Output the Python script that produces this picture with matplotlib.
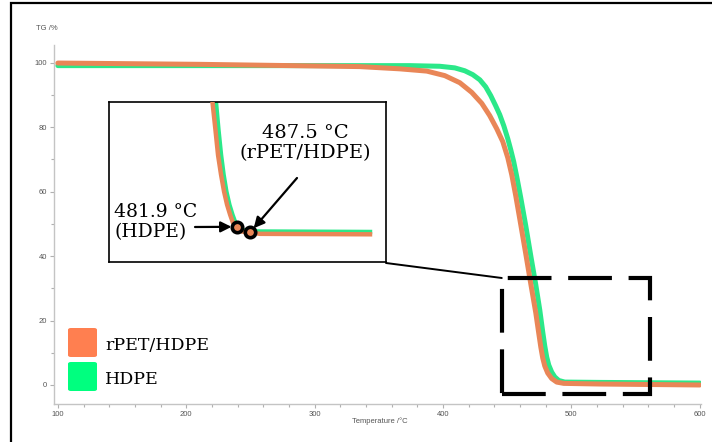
import numpy as np
import matplotlib
matplotlib.use("Agg")
import matplotlib.pyplot as plt
from matplotlib.patches import Rectangle, FancyBboxPatch
from matplotlib.ticker import MultipleLocator

# ---- TGA curves (temperature in °C, mass in %) ----
temp_blend = [100, 210.6, 335.2, 366.4, 387.4, 401.4, 413.1, 422.4, 430.2, 436.4,
              441.9, 446.6, 450.5, 453.6, 456.7, 459.8, 464.5, 468.4, 472.3,
              474.6, 476.2, 477.7, 479.3, 481.6, 484.7, 488.6, 494.1, 522.1, 600]
tg_blend = [99.9, 99.5, 98.8, 98.1, 97.4, 96.0, 93.8, 90.8, 87.4, 83.6,
            79.5, 75.5, 70.5, 65.2, 58.7, 51.6, 40.7, 31.4, 22.4,
            16.1, 11.8, 8.4, 5.9, 3.7, 2.0, 0.9, 0.5, 0.3, 0.0]

temp_hdpe = [100, 335.2, 374.1, 397.5, 409.2, 417.0, 423.2, 428.7, 433.3, 437.2,
             441.1, 444.2, 447.4, 450.5, 452.8, 455.1, 457.5, 460.6, 464.5,
             468.4, 472.3, 475.4, 477.7, 479.3, 480.8, 482.4, 484.7, 487.1,
             490.2, 494.9, 522.1, 600]
tg_hdpe = [99.1, 99.1, 99.1, 98.9, 98.4, 97.5, 96.3, 94.7, 92.5, 89.8,
           86.6, 83.9, 80.4, 76.4, 73.0, 69.3, 64.6, 58.1, 49.4,
           40.1, 31.1, 23.3, 16.5, 12.1, 8.7, 6.2, 4.0, 2.5,
           1.4, 0.9, 0.8, 0.6]

# ---- magnified end-of-degradation region ----
zoom_temp_blend = [471.3, 472.6, 473.7, 475.0, 476.3, 477.6, 478.9, 480.1,
                   481.9, 484.0, 487.5, 491.8, 539.2]
zoom_tg_blend = [28.6, 22.6, 17.3, 13.1, 9.5, 6.7, 4.6, 2.9,
                 1.6, 1.0, 0.8, 0.5, 0.4]

zoom_temp_hdpe = [472.8, 473.9, 475.0, 476.1, 477.3, 478.6, 479.9, 481.0,
                  481.9, 483.6, 486.6, 491.8, 539.2]
zoom_tg_hdpe = [28.6, 22.6, 17.3, 13.1, 9.5, 6.7, 4.6, 3.1,
                2.0, 1.4, 1.1, 1.0, 0.9]

end_temp_hdpe = 481.9
end_temp_blend = 487.5

series_names = ["rPET/HDPE", "HDPE"]
line_colors = ["#E98657", "#2BE889"]
swatch_colors = ["#FF7F50", "#00FF7F"]

W, H = 712, 442


def fpx(x, y):
    """Figure fraction from pixel position measured from the top-left."""
    return x / W, 1 - y / H


fig = plt.figure(figsize=(W / 100, H / 100), dpi=100)

# outer frame
fig.add_artist(Rectangle(fpx(11, 445), 710 / W, 442 / H, transform=fig.transFigure,
                         fill=False, ec="black", lw=1.6, zorder=0))

ax = fig.add_axes([54 / W, 38 / H, 647 / W, 359 / H])
ax.plot(temp_hdpe, tg_hdpe, color=line_colors[1], lw=3.6,
        solid_capstyle="round", solid_joinstyle="round", zorder=2)
ax.plot(temp_blend, tg_blend, color=line_colors[0], lw=3.6,
        solid_capstyle="round", solid_joinstyle="round", zorder=3)
ax.set_xlim(97, 601)
ax.set_ylim(-5.9, 105.5)
for side in ("top", "right"):
    ax.spines[side].set_visible(False)
for side in ("left", "bottom"):
    ax.spines[side].set_color("#C4C4C4")
    ax.spines[side].set_linewidth(1.0)
ax.xaxis.set_major_locator(MultipleLocator(100))
ax.xaxis.set_minor_locator(MultipleLocator(20))
ax.yaxis.set_major_locator(MultipleLocator(20))
ax.yaxis.set_minor_locator(MultipleLocator(10))
ax.tick_params(which="both", colors="#B0B0B0", labelcolor="#555555",
               labelsize=5.5, width=0.8, pad=2)
ax.tick_params(which="major", length=3)
ax.tick_params(which="minor", length=2)
for lab in ax.get_xticklabels() + ax.get_yticklabels():
    lab.set_family("Liberation Sans")

fig.text(*fpx(36, 29), "TG /%", fontsize=5.5, color="#555555",
         family="Liberation Sans", ha="left", va="center")
fig.text(*fpx(380, 421), "Temperature /°C", fontsize=5.5, color="#555555",
         family="Liberation Sans", ha="center", va="center")

# dashed frame around the zoomed region and its connector
ax.add_patch(Rectangle((445.8, -2.8), 561 - 445.8, 33.2 + 2.8, fill=False,
                       ec="black", lw=3.0, ls=(0, (10.5, 4.0)), zorder=5))
ax.annotate("", xy=(445.8, 33.2), xycoords="data",
            xytext=fpx(386, 263), textcoords="figure fraction",
            arrowprops=dict(arrowstyle="-", lw=1.4, color="black",
                            shrinkA=0, shrinkB=0), zorder=5)

# legend swatches
for i, (name, col) in enumerate(zip(series_names, swatch_colors)):
    y_top = 328 + i * 34
    x0, y0 = fpx(68, y_top + 29)
    fig.add_artist(FancyBboxPatch((x0, y0), 29 / W, 29 / H,
                                  boxstyle="round,pad=0,rounding_size=0.004",
                                  transform=fig.transFigure, fc=col, ec="none"))
    fig.text(*fpx(105, y_top + 15), name, fontsize=12.5, family="DejaVu Serif",
             ha="left", va="center_baseline", color="black")

# magnified inset
axin = fig.add_axes([109 / W, 1 - 262 / H, 277 / W, 160 / H])
axin.plot(zoom_temp_hdpe, zoom_tg_hdpe, color=line_colors[1], lw=3.2,
          solid_joinstyle="round", zorder=2)
axin.plot(zoom_temp_blend, zoom_tg_blend, color=line_colors[0], lw=3.2,
          solid_joinstyle="round", zorder=3)
axin.set_xlim(426.7, 546.1)
axin.set_ylim(-5.5, 28.6)
axin.set_xticks([])
axin.set_yticks([])
for sp in axin.spines.values():
    sp.set_color("black")
    sp.set_linewidth(1.2)

y_hdpe = np.interp(end_temp_hdpe, zoom_temp_hdpe, zoom_tg_hdpe)
y_blend = np.interp(end_temp_blend, zoom_temp_blend, zoom_tg_blend)
for t, v in ((end_temp_hdpe, y_hdpe), (end_temp_blend, y_blend)):
    axin.plot(t, v, marker="o", ms=7.5, mfc=line_colors[0], mec="black",
              mew=2.6, zorder=6)

arrow_kw = dict(arrowstyle="-|>", lw=1.6, color="black", mutation_scale=16,
                shrinkA=0, shrinkB=4)
axin.annotate("", xy=(end_temp_hdpe, y_hdpe), xycoords="data",
              xytext=fpx(195, 227), textcoords="figure fraction",
              arrowprops=arrow_kw, zorder=7)
axin.annotate("", xy=(end_temp_blend, y_blend), xycoords="data",
              xytext=fpx(297, 178), textcoords="figure fraction",
              arrowprops=arrow_kw, zorder=7)

fig.text(*fpx(305, 143), f"{end_temp_blend} °C\n(rPET/HDPE)", fontsize=14,
         family="DejaVu Serif", ha="center", va="center", linespacing=1.2)
fig.text(*fpx(114, 222), f"{end_temp_hdpe} °C\n(HDPE)", fontsize=13.5,
         family="DejaVu Serif", ha="left", va="center", linespacing=1.1)

fig.savefig("out.png", dpi=100)
